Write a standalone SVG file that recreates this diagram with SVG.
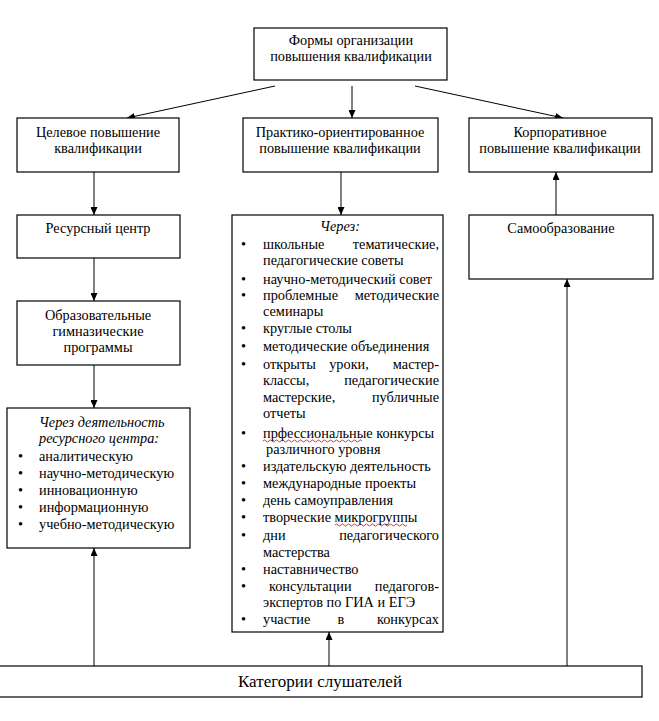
<svg xmlns="http://www.w3.org/2000/svg" width="659" height="721" viewBox="0 0 659 721">
<style>
.box{fill:#fff;stroke:#000;stroke-width:1.2}
text{font-family:"Liberation Serif","Times New Roman",serif;font-size:14.3px;fill:#000}
.c{text-anchor:middle}
.e{text-anchor:end}
.i{font-style:italic}
.big{font-size:17px}
.ln{stroke:#000;stroke-width:1;fill:none}
.sp{stroke:#d00;stroke-width:0.8;fill:none}
</style>
<defs>
<marker id="ah" markerUnits="userSpaceOnUse" markerWidth="8" markerHeight="7" refX="8" refY="3.5" orient="auto">
<path d="M0,0 L8,3.5 L0,7 z" fill="#000"/>
</marker>
</defs>
<rect width="659" height="721" fill="#fff"/>
<g id="connectors">
<line class="ln" x1="275" y1="86" x2="127" y2="118" marker-end="url(#ah)"/>
<line class="ln" x1="352" y1="86" x2="352" y2="118" marker-end="url(#ah)"/>
<line class="ln" x1="415" y1="86" x2="563" y2="118" marker-end="url(#ah)"/>
<line class="ln" x1="94" y1="172" x2="94" y2="215" marker-end="url(#ah)"/>
<line class="ln" x1="94" y1="258" x2="94" y2="301" marker-end="url(#ah)"/>
<line class="ln" x1="94" y1="365" x2="94" y2="408" marker-end="url(#ah)"/>
<line class="ln" x1="341" y1="172" x2="341" y2="215" marker-end="url(#ah)"/>
<line class="ln" x1="556" y1="215" x2="556" y2="172" marker-end="url(#ah)"/>
<line class="ln" x1="94" y1="666" x2="94" y2="548" marker-end="url(#ah)"/>
<line class="ln" x1="329" y1="666" x2="329" y2="632" marker-end="url(#ah)"/>
<line class="ln" x1="567" y1="666" x2="567" y2="279" marker-end="url(#ah)"/>
</g>
<g id="forms">
<rect class="box" x="254" y="28" width="193" height="52"/>
<text class="c" x="351" y="45">Формы организации</text>
<text class="c" x="351" y="61">повышения квалификации</text>
</g>
<g id="target">
<rect class="box" x="17" y="118" width="162" height="54"/>
<text class="c" x="98" y="137">Целевое повышение</text>
<text class="c" x="98" y="153">квалификации</text>
</g>
<g id="practice">
<rect class="box" x="243" y="118" width="195" height="54"/>
<text class="c" x="340" y="137">Практико-ориентированное</text>
<text class="c" x="340" y="153">повышение квалификации</text>
</g>
<g id="corporate">
<rect class="box" x="469" y="118" width="183" height="54"/>
<text class="c" x="560" y="137">Корпоративное</text>
<text class="c" x="560" y="153">повышение квалификации</text>
</g>
<g id="resource">
<rect class="box" x="17" y="215" width="163" height="43"/>
<text class="c" x="98" y="233">Ресурсный центр</text>
</g>
<g id="programs">
<rect class="box" x="17" y="301" width="163" height="64"/>
<text class="c" x="98" y="320">Образовательные</text>
<text class="c" x="98" y="336">гимназические</text>
<text class="c" x="98" y="352">программы</text>
</g>
<g id="activity">
<rect class="box" x="7" y="408" width="183" height="140"/>
<text class="i" x="39" y="427">Через деятельность</text>
<text class="i" x="39" y="443">ресурсного центра:</text>
<text x="18" y="461">•</text><text x="39" y="461">аналитическую</text>
<text x="18" y="478">•</text><text x="39" y="478">научно-методическую</text>
<text x="18" y="495">•</text><text x="39" y="495">инновационную</text>
<text x="18" y="512">•</text><text x="39" y="512">информационную</text>
<text x="18" y="529">•</text><text x="39" y="529">учебно-методическую</text>
</g>
<g id="via">
<rect class="box" x="232" y="215" width="211" height="417"/>
<text class="c i" x="340" y="231">Через:</text>
<text x="241" y="249">•</text><text x="263" y="249">школьные</text><text class="e" x="439" y="249">тематические,</text>
<text x="263" y="265">педагогические советы</text>
<text x="241" y="284">•</text><text x="263" y="284">научно-методический совет</text>
<text x="241" y="300">•</text><text x="263" y="300">проблемные</text><text class="e" x="439" y="300">методические</text>
<text x="263" y="316">семинары</text>
<text x="241" y="333">•</text><text x="263" y="333">круглые столы</text>
<text x="241" y="351">•</text><text x="263" y="351">методические объединения</text>
<text x="241" y="369">•</text><text x="263" y="369">открыты</text><text class="c" x="349" y="369">уроки,</text><text class="e" x="439" y="369">мастер-</text>
<text x="263" y="385">классы,</text><text class="e" x="439" y="385">педагогические</text>
<text x="263" y="402">мастерские,</text><text class="e" x="439" y="402">публичные</text>
<text x="263" y="418">отчеты</text>
<text x="241" y="438">•</text><text x="263" y="438">прфессиональные конкурсы</text>
<path class="sp" d="M263,441 q1.5,-2 3,0 t3,0 t3,0 t3,0 t3,0 t3,0 t3,0 t3,0 t3,0 t3,0 t3,0 t3,0 t3,0 t3,0 t3,0 t3,0 t3,0 t3,0 t3,0 t3,0 t3,0 t3,0 t3,0 t3,0 t3,0 t3,0 t3,0 t3,0 t3,0 t3,0 t3,0 t3,0 t3,0"/>
<text x="266" y="454">различного уровня</text>
<text x="241" y="471">•</text><text x="263" y="471">издательскую деятельность</text>
<text x="241" y="488">•</text><text x="263" y="488">международные проекты</text>
<text x="241" y="505">•</text><text x="263" y="505">день самоуправления</text>
<text x="241" y="522">•</text><text x="263" y="522">творческие микрогруппы</text>
<path class="sp" d="M335,525 q1.5,-2 3,0 t3,0 t3,0 t3,0 t3,0 t3,0 t3,0 t3,0 t3,0 t3,0 t3,0 t3,0 t3,0 t3,0 t3,0 t3,0 t3,0 t3,0 t3,0 t3,0 t3,0 t3,0 t3,0 t3,0"/>
<text x="241" y="540">•</text><text x="263" y="540">дни</text><text class="e" x="439" y="540">педагогического</text>
<text x="263" y="557">мастерства</text>
<text x="241" y="574">•</text><text x="263" y="574">наставничество</text>
<text x="241" y="591">•</text><text x="269" y="591">консультации</text><text class="e" x="439" y="591">педагогов-</text>
<text x="263" y="607">экспертов по ГИА и ЕГЭ</text>
<text x="241" y="624">•</text><text x="263" y="624">участие</text><text class="c" x="341" y="624">в</text><text class="e" x="439" y="624">конкурсах</text>
</g>
<g id="selfedu">
<rect class="box" x="469" y="215" width="184" height="64"/>
<text class="c" x="561" y="233">Самообразование</text>
</g>
<g id="categories">
<rect class="box" x="-1" y="666" width="643" height="31"/>
<text class="c big" x="320" y="687">Категории слушателей</text>
</g>
</svg>
